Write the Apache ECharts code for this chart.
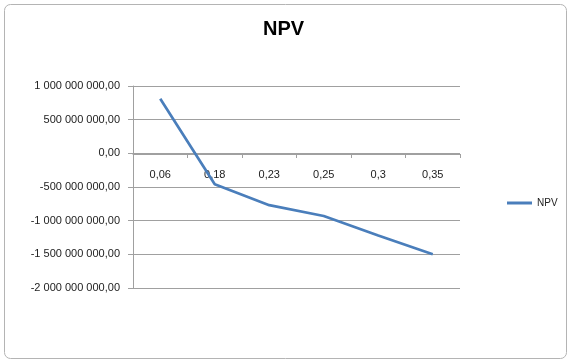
<!DOCTYPE html>
<html>
<head>
<meta charset="utf-8">
<script src="https://cdn.jsdelivr.net/npm/echarts@6/dist/echarts.min.js"></script>
<style>html,body{margin:0;padding:0;background:#fff}#c{width:567px;height:359px}</style>
</head>
<body>
<div id="c"></div>
<script>
var categories = ["0,06", "0,18", "0,23", "0,25", "0,3", "0,35"];
var npvValues = [810000000, -460000000, -770000000, -930000000, -1220000000, -1500000000];
var yTicks = {min: -2000000000, max: 1000000000, interval: 500000000};

function fmt(v) {
  var neg = v < 0;
  var s = Math.abs(Math.round(v)).toString();
  s = s.replace(/\B(?=(\d{3})+(?!\d))/g, " ");
  return (neg ? "-" : "") + s + ",00";
}

var chart = echarts.init(document.getElementById('c'), null, {renderer: 'canvas'});
chart.setOption({
  backgroundColor: '#ffffff',
  animation: false,
  title: {
    text: 'NPV', left: 'center', top: 14,
    textStyle: {fontFamily: 'Liberation Sans', fontSize: 20, fontWeight: 'bold', color: '#000'}
  },
  legend: {
    left: 502, top: 193, icon: 'rect', itemWidth: 25, itemHeight: 3, itemGap: 4,
    textStyle: {fontFamily: 'Liberation Sans', fontSize: 10, color: '#222'},
    data: ['NPV']
  },
  graphic: [{
    type: 'rect', left: 2, top: 2,
    shape: {width: 562, height: 354, r: 6},
    style: {fill: 'none', stroke: '#b4b4b4', lineWidth: 1}
  }],
  grid: {left: 133, right: 107, top: 86, bottom: 71, containLabel: false},
  xAxis: {
    type: 'category', data: categories, boundaryGap: true,
    offset: -134,
    axisLine: {onZero: false, lineStyle: {color: '#a0a0a0', width: 1}},
    axisTick: {show: true, length: 4, lineStyle: {color: '#a0a0a0'}},
    axisLabel: {margin: 15, fontFamily: 'Liberation Sans', fontSize: 11, color: '#222'},
    splitLine: {show: false}
  },
  yAxis: {
    type: 'value', min: yTicks.min, max: yTicks.max, interval: yTicks.interval,
    axisLine: {show: true, lineStyle: {color: '#a0a0a0', width: 1}},
    axisTick: {show: true, length: 5, lineStyle: {color: '#a0a0a0'}},
    axisLabel: {margin: 13, fontFamily: 'Liberation Sans', fontSize: 11, color: '#222', formatter: fmt},
    splitLine: {show: true, lineStyle: {color: '#a0a0a0', width: 1}}
  },
  series: [{
    name: 'NPV', type: 'line', data: npvValues, symbol: 'none',
    lineStyle: {color: '#4a7ebb', width: 2.7}, itemStyle: {color: '#4a7ebb'}
  }]
});
</script>
</body>
</html>
